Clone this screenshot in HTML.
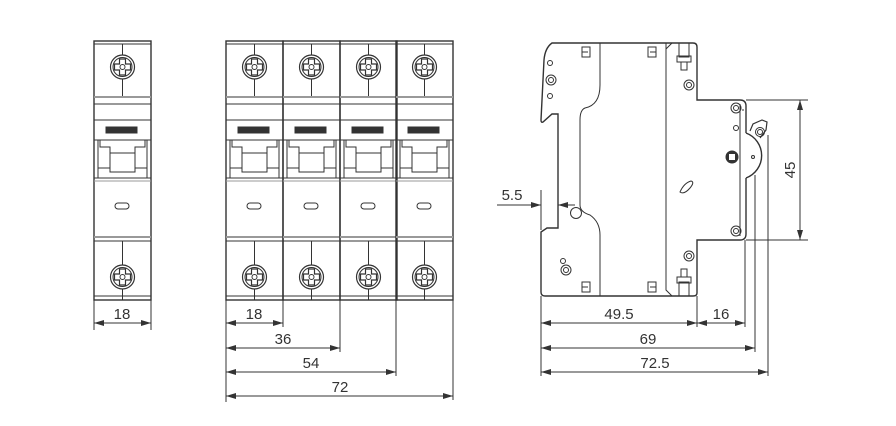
<!DOCTYPE html>
<html><head><meta charset="utf-8"><style>
html,body{margin:0;padding:0;background:#fff;}
svg{display:block;}
text{font-family:"Liberation Sans",Arial,sans-serif;font-size:15px;fill:#333;}
</style></head><body>
<svg width="896" height="426" viewBox="0 0 896 426" xmlns="http://www.w3.org/2000/svg">
<defs>
<marker id="a" viewBox="0 0 10 6" refX="10" refY="3" markerWidth="10" markerHeight="6" orient="auto-start-reverse" markerUnits="userSpaceOnUse"><path d="M0,0 L10,3 L0,6 z" fill="#333"/></marker>
<g id="scr">
<circle r="12" fill="#fff" stroke="#333" stroke-width="1.2"/>
<circle r="9.5" fill="none" stroke="#333" stroke-width="1"/>
<path d="M-3,-8 h6 v5 h5 v6 h-5 v5 h-6 v-5 h-5 v-6 h5z" fill="#fff" stroke="#333" stroke-width="1.2"/>
<circle r="2.5" fill="none" stroke="#333"/>
</g>
<g id="pole" fill="none" stroke="#333" stroke-width="1">
<rect x="0" y="41" width="57" height="259" stroke-width="1.4"/>
<line x1="0" y1="44" x2="57" y2="44"/>
<line x1="28.5" y1="44" x2="28.5" y2="97"/>
<line x1="0" y1="97" x2="57" y2="97" stroke="#999" stroke-width="2"/>
<line x1="0" y1="104" x2="57" y2="104"/>
<line x1="0" y1="120" x2="57" y2="120"/>
<rect x="12" y="127" width="31" height="6" fill="#333"/>
<line x1="0" y1="140" x2="57" y2="140"/>
<path d="M4,140 V178 M53,140 V178 M6,140 v7 h10 v6 h25 v-6 h10 v-7 M16,153 V172 H41 V153 M4,168 H16 M41,168 H53"/>
<line x1="0" y1="178" x2="57" y2="178"/>
<line x1="0" y1="181" x2="57" y2="181" stroke="#999"/>
<rect x="21" y="203" width="14" height="6" rx="3"/>
<line x1="0" y1="237" x2="57" y2="237" stroke="#999" stroke-width="2"/>
<line x1="0" y1="241" x2="57" y2="241"/>
<line x1="28.5" y1="241" x2="28.5" y2="300"/>
<line x1="0" y1="296" x2="57" y2="296"/>
<use href="#scr" x="28.5" y="67"/>
<use href="#scr" x="28.5" y="277"/>
</g>
</defs>
<use href="#pole" x="94"/>
<use href="#pole" x="226"/>
<use href="#pole" x="283"/>
<use href="#pole" x="340"/>
<use href="#pole" x="396"/>

<g stroke="#333" stroke-width="1" fill="none">
<line x1="94" y1="300" x2="94" y2="330"/><line x1="151" y1="300" x2="151" y2="330"/>
<line x1="94" y1="323" x2="151" y2="323" marker-start="url(#a)" marker-end="url(#a)"/>
<line x1="226" y1="300" x2="226" y2="402"/>
<line x1="283" y1="300" x2="283" y2="327"/>
<line x1="340" y1="300" x2="340" y2="352"/>
<line x1="396" y1="300" x2="396" y2="376"/>
<line x1="453" y1="300" x2="453" y2="400"/>
<line x1="226" y1="323" x2="283" y2="323" marker-start="url(#a)" marker-end="url(#a)"/>
<line x1="226" y1="348" x2="340" y2="348" marker-start="url(#a)" marker-end="url(#a)"/>
<line x1="226" y1="372" x2="396" y2="372" marker-start="url(#a)" marker-end="url(#a)"/>
<line x1="226" y1="396" x2="453" y2="396" marker-start="url(#a)" marker-end="url(#a)"/>
</g>
<text x="122" y="319" text-anchor="middle">18</text>
<text x="254" y="319" text-anchor="middle">18</text>
<text x="283" y="344" text-anchor="middle">36</text>
<text x="311" y="368" text-anchor="middle">54</text>
<text x="340" y="392" text-anchor="middle">72</text>

<!-- side view -->
<g stroke="#333" fill="none" stroke-width="1.4">
<path d="M746,178 V234 Q746,240 740,240 H697 V293 Q697,296 693,296 H545 Q541,296 541,292 V232 L547,228 H558 V114 H552 L543,122 Q541,123 541,120 L544,60 Q545,48 552,43 H693 Q697,43 697,47 V100 H740 Q746,100 746,106 V133"/>
<path d="M746,133 A24,24 0 0 1 746,178" />
<path d="M750,131 L753,124 L762,120 L767,122 L766,130 L760,138" stroke-width="1.2"/>
</g>
<g stroke="#333" fill="none" stroke-width="1">
<path d="M600,43 V85 Q600,105 585,108 Q580,110 580,120 V205 Q580,212 590,215 Q600,222 600,235 V296"/>
<path d="M666,43 V290 L672,296 M672,43 L666,49"/>
<path d="M740,104 V236 M742,110 H744"/>
<circle cx="576" cy="213" r="5.5"/>
<circle cx="551" cy="80" r="5"/><circle cx="551" cy="80" r="2.5"/>
<circle cx="550" cy="63" r="2.5"/><circle cx="550" cy="96" r="2.5"/>
<circle cx="566" cy="270" r="5"/><circle cx="566" cy="270" r="2.5"/>
<circle cx="563" cy="261" r="2.5"/>
<circle cx="689" cy="85" r="5"/><circle cx="689" cy="85" r="2.5"/>
<circle cx="689" cy="256" r="5"/><circle cx="689" cy="256" r="2.5"/>
<circle cx="736" cy="108" r="5"/><circle cx="736" cy="108" r="2.5"/>
<circle cx="736" cy="231" r="5"/><circle cx="736" cy="231" r="2.5"/>
<circle cx="736" cy="128" r="2.5"/>
<circle cx="760" cy="132" r="4.5"/><circle cx="760" cy="132" r="2.5"/>
<circle cx="753" cy="157" r="1.5"/>
<circle cx="732" cy="157" r="6" fill="#333"/><rect x="729" y="154" width="6" height="6" fill="#fff" stroke="none"/>
<path d="M680,192 Q684,183 691,181 Q695,182 690,188 Q684,195 680,192Z"/>
<path d="M582,47 h8 v10 h-8z M582,52 h6 M648,47 h8 v10 h-8z M650,52 h6 M679,43 v14 h10 v-14 M677,56 h14 v6 h-14z M681,62 v8 h6 v-8"/>
<path d="M582,282 h8 v10 h-8z M582,287 h6 M648,282 h8 v10 h-8z M650,287 h6 M679,296 v-14 h10 v14 M677,283 h14 v-6 h-14z M681,277 v-8 h6 v8"/>
</g>
<g stroke="#333" stroke-width="1" fill="none">
<line x1="541" y1="190" x2="541" y2="230"/>
<line x1="497" y1="205" x2="541" y2="205" marker-end="url(#a)"/>
<line x1="575" y1="205" x2="558" y2="205" marker-end="url(#a)"/>
<line x1="541" y1="296" x2="541" y2="376"/>
<line x1="697" y1="296" x2="697" y2="327"/>
<line x1="745" y1="240" x2="745" y2="327"/>
<line x1="755" y1="175" x2="755" y2="352"/>
<line x1="768" y1="135" x2="768" y2="376"/>
<line x1="541" y1="323" x2="697" y2="323" marker-start="url(#a)" marker-end="url(#a)"/>
<line x1="697" y1="323" x2="745" y2="323" marker-start="url(#a)" marker-end="url(#a)"/>
<line x1="541" y1="348" x2="755" y2="348" marker-start="url(#a)" marker-end="url(#a)"/>
<line x1="541" y1="372" x2="768" y2="372" marker-start="url(#a)" marker-end="url(#a)"/>
<line x1="746" y1="100" x2="808" y2="100"/>
<line x1="746" y1="240" x2="808" y2="240"/>
<line x1="800" y1="100" x2="800" y2="240" marker-start="url(#a)" marker-end="url(#a)"/>
</g>
<text x="512" y="200" text-anchor="middle">5.5</text>
<text x="619" y="319" text-anchor="middle">49.5</text>
<text x="721" y="319" text-anchor="middle">16</text>
<text x="648" y="344" text-anchor="middle">69</text>
<text x="655" y="368" text-anchor="middle">72.5</text>
<text x="0" y="0" text-anchor="middle" transform="translate(795,170) rotate(-90)">45</text>
</svg>
</body></html>
